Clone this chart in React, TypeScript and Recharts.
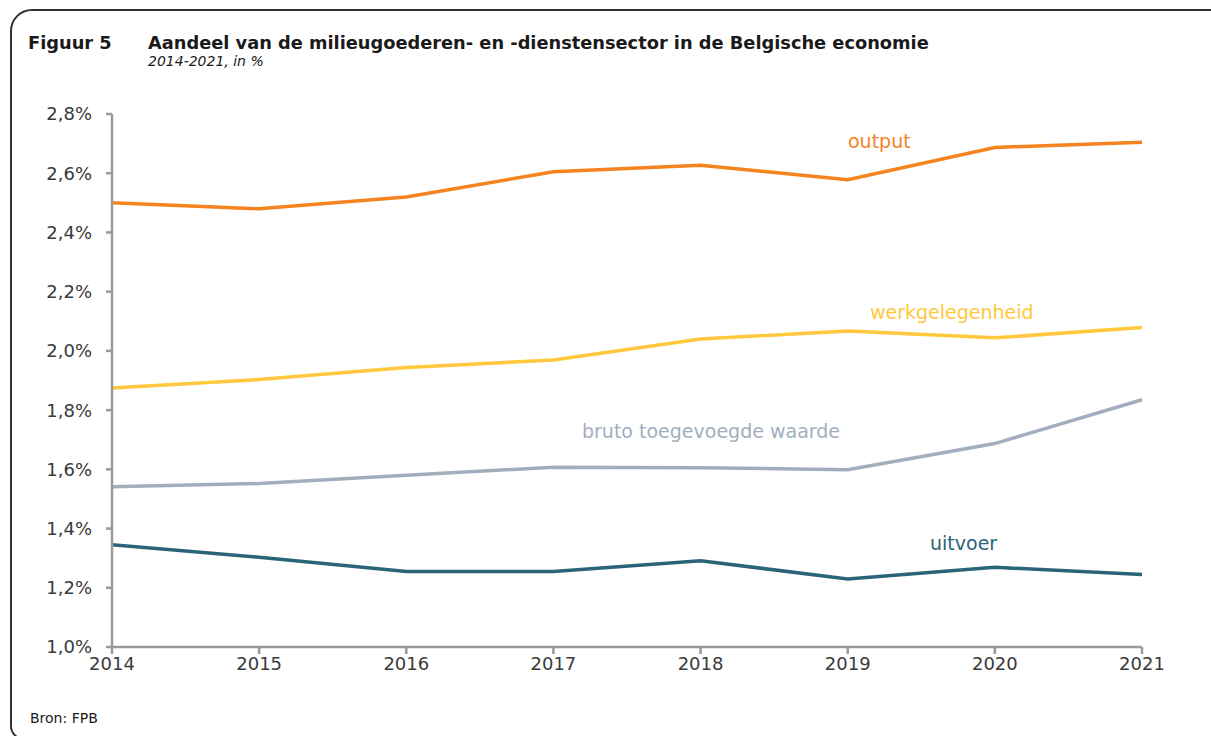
import { LineChart, Line, XAxis, YAxis } from "recharts";

const years = ["2014", "2015", "2016", "2017", "2018", "2019", "2020", "2021"];
const output = [2.5, 2.48, 2.52, 2.605, 2.627, 2.578, 2.687, 2.705];
const werkgelegenheid = [1.875, 1.903, 1.944, 1.969, 2.04, 2.067, 2.044, 2.079];
const brutoToegevoegdeWaarde = [1.541, 1.552, 1.58, 1.607, 1.605, 1.599, 1.687, 1.835];
const uitvoer = [1.345, 1.303, 1.255, 1.255, 1.291, 1.23, 1.269, 1.245];
const yTicks = [1.0, 1.2, 1.4, 1.6, 1.8, 2.0, 2.2, 2.4, 2.6, 2.8];

const data = years.map((year, i) => ({
  year,
  output: output[i],
  werk: werkgelegenheid[i],
  bruto: brutoToegevoegdeWaarde[i],
  uitvoer: uitvoer[i],
}));

const FONT = "'DejaVu Sans', Verdana, sans-serif";
const AXIS = "#9a9a9a";

const fmt = (v: number) => v.toFixed(1).replace(".", ",") + "%";

const lbl = (left: number, top: number, color: string): React.CSSProperties => ({
  position: "absolute",
  left,
  top,
  color,
  fontSize: 19,
  fontFamily: FONT,
  whiteSpace: "nowrap",
  lineHeight: "22px",
});

export default function App() {
  return (
    <div style={{ position: "absolute", left: 0, top: 0, width: 1211, height: 736, background: "#fff", overflow: "hidden", fontFamily: FONT }}>
      <div
        style={{
          position: "absolute",
          left: 10,
          top: 9,
          width: 1300,
          height: 731,
          border: "2px solid #333",
          borderTopLeftRadius: 22,
          borderBottomLeftRadius: 14,
          boxSizing: "border-box",
        }}
      />
      <div style={{ position: "absolute", left: 28, top: 32, fontSize: 17.8, fontWeight: "bold", color: "#1a1a1a" }}>Figuur 5</div>
      <div style={{ position: "absolute", left: 148, top: 32, fontSize: 17.8, fontWeight: "bold", color: "#1a1a1a", whiteSpace: "nowrap" }}>
        Aandeel van de milieugoederen- en -dienstensector in de Belgische economie
      </div>
      <div style={{ position: "absolute", left: 148, top: 53, fontSize: 14, fontStyle: "italic", color: "#1a1a1a" }}>2014-2021, in %</div>

      <div style={{ position: "absolute", left: 0, top: 0 }}>
        <LineChart width={1211} height={736} data={data} margin={{ top: 114, right: 69, bottom: 59, left: 0 }}>
          <XAxis
            dataKey="year"
            height={30}
            axisLine={{ stroke: AXIS, strokeWidth: 2.5 }}
            tickLine={{ stroke: AXIS, strokeWidth: 2.5 }}
            tickSize={7}
            tickMargin={3}
            interval={0}
            tick={{ fill: "#3a3a3a", fontSize: 18, fontFamily: FONT }}
          />
          <YAxis
            width={112}
            domain={[1, 2.8]}
            ticks={yTicks}
            interval={0}
            tickFormatter={fmt}
            axisLine={{ stroke: AXIS, strokeWidth: 2.5 }}
            tickLine={{ stroke: AXIS, strokeWidth: 2.5 }}
            tickSize={6}
            tickMargin={14}
            tick={{ fill: "#3a3a3a", fontSize: 18, fontFamily: FONT }}
          />
          <Line dataKey="output" stroke="#F5831F" strokeWidth={3.5} dot={false} isAnimationActive={false} />
          <Line dataKey="werk" stroke="#FFC83D" strokeWidth={3.5} dot={false} isAnimationActive={false} />
          <Line dataKey="bruto" stroke="#A2AEBD" strokeWidth={3.5} dot={false} isAnimationActive={false} />
          <Line dataKey="uitvoer" stroke="#2A6479" strokeWidth={3.5} dot={false} isAnimationActive={false} />
        </LineChart>
      </div>

      <div style={lbl(848, 130, "#F5831F")}>output</div>
      <div style={lbl(870, 301, "#FFC83D")}>werkgelegenheid</div>
      <div style={lbl(582, 420, "#A2AEBD")}>bruto toegevoegde waarde</div>
      <div style={lbl(930, 532, "#2A6479")}>uitvoer</div>

      <div style={{ position: "absolute", left: 30, top: 710, fontSize: 14, color: "#1a1a1a" }}>Bron: FPB</div>
    </div>
  );
}
